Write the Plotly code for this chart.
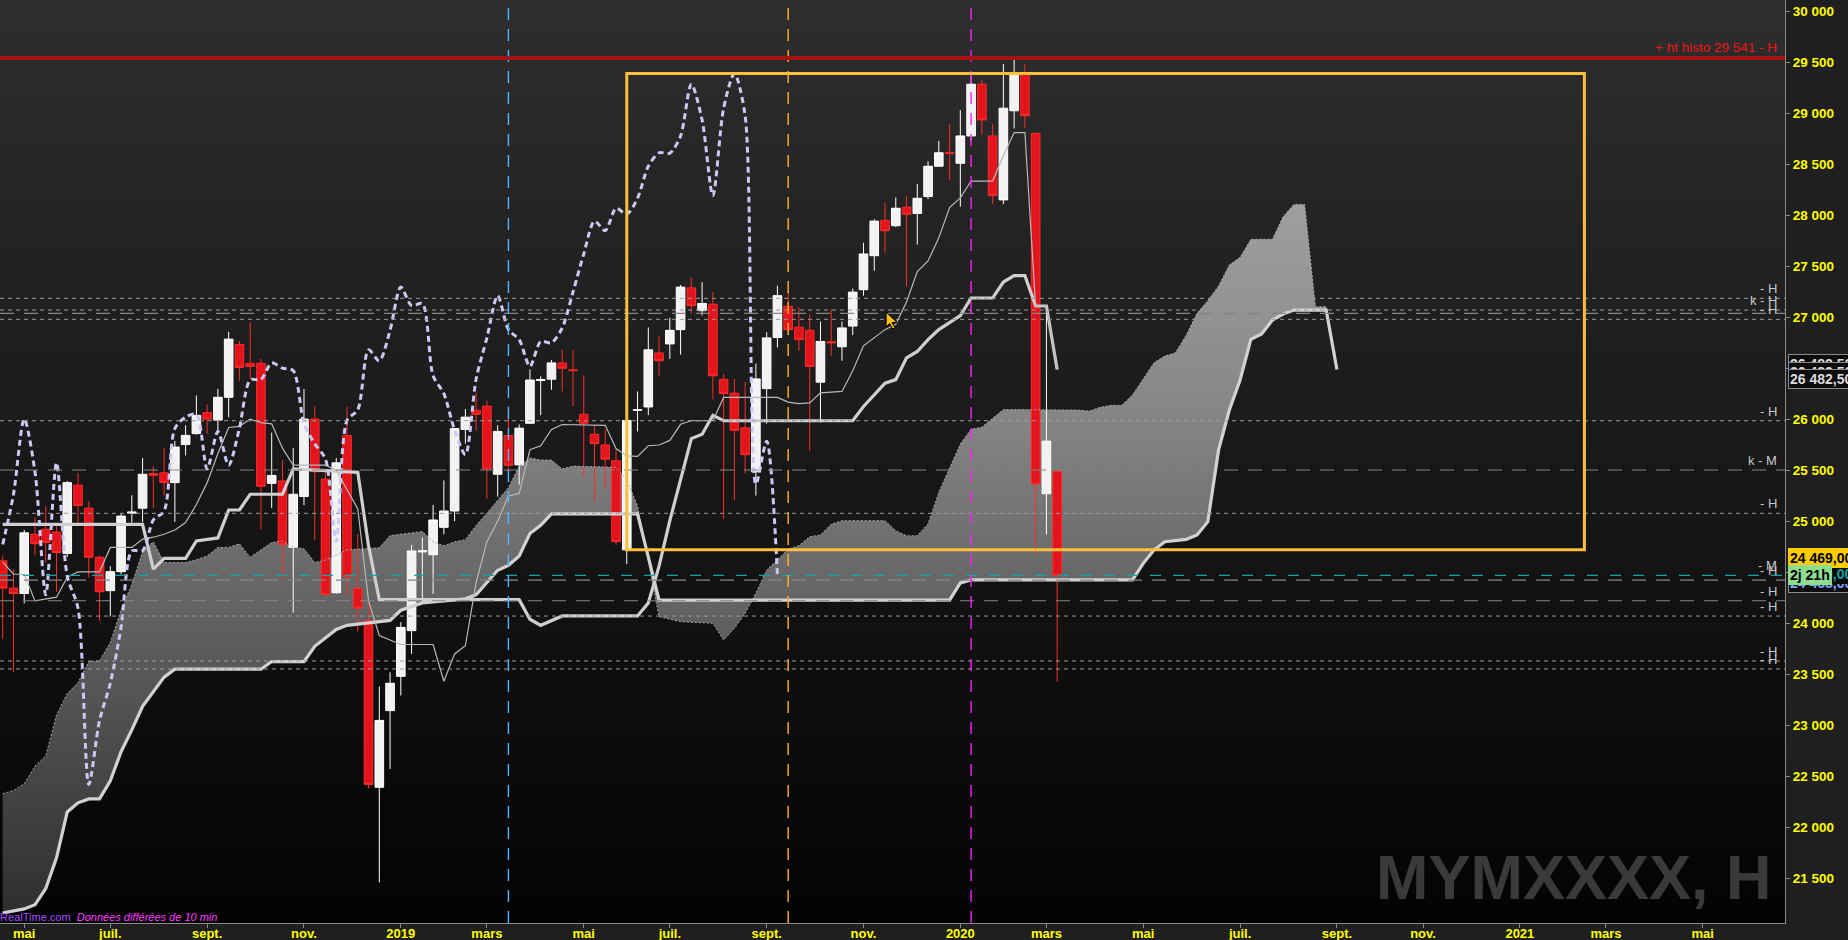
import pandas as pd
import plotly.graph_objects as go

# ---------------- data ----------------
first_week = "2018-04-23"

opens = [24612, 24345, 24292, 24873, 24922, 24894, 24684, 25354, 25129, 24648,
         24320, 24506, 25080, 25129, 25468, 25475, 25379, 25753, 25860, 26066,
         25992, 26216, 26733, 26548, 26548, 25372, 25396, 24744, 25243, 26002,
         25414, 24300, 25841, 24340, 24028, 22392, 23144, 23480, 23928, 24700,
         24672, 24941, 25101, 25901, 26089, 26129, 25461, 25841, 25553, 25961,
         26380, 26393, 26553, 26485, 26049, 25853, 25749, 25593, 24720, 26089,
         26121, 26651, 26739, 26879, 27289, 27065, 27128, 26392, 26256, 25916,
         25485, 26301, 26802, 27107, 26903, 26872, 26364, 26760, 26711, 26914,
         27271, 27604, 27950, 27898, 28080, 28018, 28184, 28481, 28617, 28510,
         28778, 29285, 28778, 28151, 29025, 29389, 28803, 25270, 25489]
highs = [24666, 24523, 24915, 25040, 25147, 24950, 25396, 25475, 25200, 24666,
         24559, 25076, 25254, 25621, 25539, 25717, 25788, 25942, 26234, 26145,
         26298, 26858, 26769, 26950, 26590, 25870, 25600, 25717, 26298, 26127,
         25489, 25621, 26121, 24873, 24260, 23380, 23520, 24012, 24768, 24840,
         25161, 25401, 25915, 26101, 26261, 26181, 25941, 26129, 25949, 26489,
         26421, 26581, 26681, 26681, 26433, 25941, 25901, 25701, 25989, 26273,
         26901, 26816, 26995, 27317, 27387, 27345, 27247, 26441, 26396, 26364,
         26546, 26854, 27310, 27254, 27100, 27030, 26959, 27079, 26959, 27282,
         27730, 27961, 28122, 28174, 28192, 28307, 28530, 28728, 28893, 29030,
         29368, 29327, 28893, 29483, 29554, 29479, 28803, 27078, 25489]
lows = [23846, 23525, 24195, 24666, 24595, 24310, 24650, 24987, 24452, 24024,
        24067, 24480, 24987, 24994, 25129, 25254, 24994, 25646, 25849, 25860,
        25860, 26020, 26377, 26394, 24922, 25129, 24434, 24103, 25158, 24815,
        24274, 24288, 24280, 23920, 22380, 21459, 22572, 23292, 23700, 24240,
        24288, 24872, 25001, 25761, 25889, 25221, 25241, 25481, 25361, 25961,
        26041, 26289, 26273, 26129, 25441, 25193, 25321, 24769, 24580, 25881,
        26041, 26424, 26592, 26634, 27037, 27019, 26196, 25023, 25205, 25468,
        25251, 25958, 26704, 26861, 26669, 25688, 25969, 26623, 26574, 26826,
        27212, 27457, 27632, 27884, 27299, 27713, 28159, 28481, 28345, 28085,
        28728, 28790, 28109, 28109, 28852, 28860, 24676, 24870, 23426]
closes = [24345, 24292, 24887, 24780, 24791, 24694, 25379, 25154, 24648, 24309,
          24506, 25051, 25090, 25461, 25450, 25379, 25728, 25842, 26038, 26002,
          26216, 26786, 26508, 26519, 25343, 25450, 24773, 25265, 26002, 25486,
          24281, 25573, 24460, 24148, 22420, 23048, 23412, 23960, 24709, 24712,
          25013, 25101, 25909, 26021, 26049, 25513, 25881, 25549, 25913, 26385,
          26390, 26553, 26501, 26477, 25961, 25761, 25609, 24801, 25989, 26093,
          26681, 26574, 26872, 27296, 27114, 27135, 26427, 26252, 25892, 25653,
          26396, 26798, 27212, 26879, 26781, 26518, 26763, 26750, 26896, 27247,
          27621, 27943, 27849, 28069, 28010, 28167, 28481, 28613, 28609, 28778,
          29285, 28935, 28192, 29050, 29389, 28976, 25365, 25786, 24469]

# Ichimoku lines: (week number since first_week, value)
tenkan_pts = [(0, 24600), (1, 24481), (2, 24481), (3, 24220), (5, 24256), (6, 24452), (7, 24505),
              (9, 24505), (10, 24744), (12, 24744), (13, 24826), (14, 24844), (15, 24873), (16, 24915),
              (17, 24987), (18, 25165), (19, 25379), (20, 25664), (21, 25920), (22, 25931), (23, 26002),
              (24, 25967), (25, 25956), (26, 25717), (27, 25550), (30, 25550), (31, 25501), (33, 25121),
              (34, 24220), (35, 23880), (37, 23792), (40, 23792), (41, 23432), (42, 23700), (43, 23780),
              (44, 24400), (45, 24800), (46, 25001), (47, 25249), (48, 25273), (49, 25701), (50, 25741),
              (51, 25901), (52, 25949), (56, 25941), (57, 25713), (58, 25641), (59, 25636), (60, 25741),
              (61, 25748), (62, 25793), (63, 25951), (64, 25986), (66, 25986), (67, 26214), (72, 26214),
              (73, 26168), (74, 26154), (75, 26161), (76, 26259), (78, 26273), (79, 26476), (80, 26721),
              (82, 26879), (83, 26931), (84, 27150), (85, 27449), (86, 27552), (87, 27779), (88, 28076),
              (89, 28171), (90, 28336), (92, 28336), (93, 28584), (94, 28811), (95, 28811), (96, 27111),
              (97, 27111), (98, 26488)]
kijun_pts = [(0, 24969), (13, 24969), (14, 24530), (15, 24637), (17, 24637), (18, 24808), (20, 24837),
             (21, 25111), (22, 25111), (23, 25265), (26, 25265), (27, 25514), (33, 25480), (34, 24760),
             (35, 24232), (48, 24232), (49, 24040), (50, 23980), (52, 24072), (59, 24072), (60, 24200),
             (61, 24560), (62, 25006), (64, 25811), (65, 25853), (66, 26039), (67, 25986), (79, 25986),
             (80, 26126), (82, 26354), (83, 26389), (84, 26603), (85, 26665), (86, 26781), (87, 26880),
             (89, 27016), (90, 27189), (92, 27189), (93, 27346), (94, 27408), (95, 27408), (96, 27111),
             (97, 27111), (98, 26488)]
span_a_pts = [(0, 22330), (1, 22360), (2, 22428), (3, 22599), (4, 22700), (5, 23100), (6, 23312),
              (7, 23418), (8, 23625), (9, 23632), (10, 23811), (11, 24131), (12, 24381), (13, 24701),
              (14, 24800), (15, 24595), (17, 24595), (18, 24623), (19, 24659), (20, 24744), (21, 24744),
              (22, 24780), (23, 24648), (24, 24719), (25, 24791), (26, 24808), (27, 24744), (28, 24730),
              (29, 24595), (30, 24620), (32, 24720), (35, 24740), (36, 24860), (39, 24900), (40, 24800),
              (41, 24760), (42, 24800), (43, 24820), (44, 24960), (45, 25080), (46, 25200), (47, 25330),
              (48, 25540), (49, 25621), (50, 25601), (51, 25601), (52, 25513), (53, 25541), (57, 25529),
              (58, 25405), (59, 25150), (60, 24600), (61, 24065), (63, 24016), (66, 24000), (67, 23836),
              (68, 23951), (69, 24098), (70, 24294), (71, 24520), (72, 24620), (73, 24726), (74, 24761),
              (75, 24848), (76, 24866), (77, 24971), (78, 25006), (82, 25006), (83, 24908), (84, 24858),
              (85, 24858), (86, 24973), (87, 25283), (89, 25757), (90, 25902), (91, 25922), (93, 26096),
              (100, 26090), (101, 26081), (102, 26117), (103, 26137), (104, 26137), (105, 26238),
              (106, 26402), (107, 26555), (108, 26620), (109, 26653), (110, 26826), (111, 27039),
              (112, 27163), (113, 27307), (114, 27513), (115, 27588), (116, 27764), (118, 27764),
              (119, 27987), (120, 28107), (121, 28107), (122, 27104), (123, 27104), (124, 26488)]
span_b_pts = [(0, 21160), (2, 21200), (3, 21240), (4, 21400), (5, 21700), (6, 22150), (7, 22240),
              (8, 22278), (9, 22278), (10, 22456), (11, 22741), (12, 22955), (13, 23187), (15, 23472),
              (16, 23550), (24, 23550), (25, 23625), (28, 23625), (29, 23775), (30, 23860), (31, 23940),
              (32, 23980), (36, 24028), (37, 24128), (39, 24200), (43, 24240), (44, 24280), (46, 24520),
              (47, 24568), (48, 24660), (49, 24880), (50, 24960), (51, 25073), (59, 25073), (60, 24650),
              (61, 24228), (88, 24228), (89, 24396), (90, 24425), (105, 24425), (106, 24588),
              (107, 24718), (108, 24800), (110, 24823), (111, 24866), (112, 24996), (113, 25700),
              (114, 26091), (115, 26385), (116, 26784), (117, 26836), (118, 26973), (119, 27032),
              (120, 27071), (123, 27071), (124, 26488)]
chikou_shift = 26

tick_dates = ["2018-05-07", "2018-07-02", "2018-09-03", "2018-11-05", "2019-01-07", "2019-03-04",
              "2019-05-06", "2019-07-01", "2019-09-02", "2019-11-04", "2020-01-06", "2020-03-02",
              "2020-05-04", "2020-07-06", "2020-09-07", "2020-11-02", "2021-01-04", "2021-03-01",
              "2021-05-03"]
tick_labels = ["mai", "juil.", "sept.", "nov.", "2019", "mars", "mai", "juil.", "sept.", "nov.",
               "2020", "mars", "mai", "juil.", "sept.", "nov.", "2021", "mars", "mai"]

level_values = [27186, 27071, 27039, 26980, 25986, 25503, 25078, 24469, 24424, 24221, 24071, 23630, 23552]
level_labels = ["- H", "k - H", "", "- H", "- H", "k - M", "- H", "- M", "- H", "- H", "- H", "- H", "- H"]
level_kinds = ["short", "short", "long", "short", "short", "long", "short", "teal", "long", "long",
               "short", "short", "short"]

record_high = 29541
record_label = "+ ht histo 29 541 - H"
vline_weeks = [47, 73, 90]
box_weeks = (58, 147)
box_values = (24720, 29389)
last_ichimoku_value = 26482.5
cursor_week, cursor_value = 82.1, 27052

# ---------------- helpers ----------------
t0 = pd.Timestamp(first_week)


def wk(w):
    return t0 + pd.Timedelta(weeks=w)


dates = [wk(i) for i in range(len(opens))]


def split(pts):
    return [wk(p[0]) for p in pts], [p[1] for p in pts]


FONT = "Liberation Sans, Arial, sans-serif"

fig = go.Figure()

# ---- cloud (base subplot, under the candles) ----
bx, by = split(span_b_pts)
ax_, ay = split(span_a_pts)
fig.add_trace(go.Scatter(x=bx, y=by, mode="lines", line=dict(width=0, color="rgba(0,0,0,0)"),
                         hoverinfo="skip", showlegend=False))
fig.add_trace(go.Scatter(x=ax_, y=ay, mode="lines", line=dict(width=0, color="rgba(0,0,0,0)"),
                         fill="tonexty", fillcolor="#6e6e6e",
                         fillgradient=dict(type="vertical", start=21000, stop=28200,
                                           colorscale=[[0, "#2c2c2c"], [0.486, "#696969"],
                                                       [0.694, "#858585"], [1, "#a0a0a0"]]),
                         hoverinfo="skip", showlegend=False))

# ---- candles and lines (overlay subplot, above the cloud) ----
fig.add_trace(go.Candlestick(x=dates, open=opens, high=highs, low=lows, close=closes,
                             xaxis="x2", yaxis="y2",
                             increasing=dict(fillcolor="#f2f2f2", line=dict(color="#ffffff", width=1)),
                             decreasing=dict(fillcolor="#e3141c", line=dict(color="#ff2a2a", width=1)),
                             hoverinfo="skip", showlegend=False))
fig.add_trace(go.Scatter(x=ax_, y=ay, mode="lines", xaxis="x2", yaxis="y2",
                         line=dict(color="#a8a8a8", width=1, dash="2px,2px"),
                         hoverinfo="skip", showlegend=False))
fig.add_trace(go.Scatter(x=bx, y=by, mode="lines", xaxis="x2", yaxis="y2",
                         line=dict(color="#d2d2d2", width=3.2),
                         hoverinfo="skip", showlegend=False))
kx, ky = split(kijun_pts)
fig.add_trace(go.Scatter(x=kx, y=ky, mode="lines", xaxis="x2", yaxis="y2",
                         line=dict(color="#cfcfcf", width=3.2),
                         hoverinfo="skip", showlegend=False))
tx, ty = split(tenkan_pts)
fig.add_trace(go.Scatter(x=tx, y=ty, mode="lines", xaxis="x2", yaxis="y2",
                         line=dict(color="#b9b9b9", width=1.2),
                         hoverinfo="skip", showlegend=False))
fig.add_trace(go.Scatter(x=dates[:len(closes) - chikou_shift], y=closes[chikou_shift:],
                         mode="lines", xaxis="x2", yaxis="y2",
                         line=dict(color="#c9c9f4", width=3, dash="6px,4px", shape="spline", smoothing=0.8),
                         hoverinfo="skip", showlegend=False))

# ---------------- shapes ----------------
shapes = []
N = 92
for i in range(N):
    f = (i + 0.5) / N  # 0 bottom -> 1 top
    g = int(round(3 + (46 - 3) * f))
    shapes.append(dict(type="rect", xref="paper", yref="paper", x0=0, x1=1,
                       y0=i / N, y1=(i + 1) / N + 0.002, line=dict(width=0),
                       fillcolor=f"rgb({g},{g},{g})", layer="below"))

styles = {"short": dict(color="#9c9c9c", width=1, dash="4px,4px"),
          "long": dict(color="#858585", width=1.2, dash="14px,10px"),
          "teal": dict(color="#13a3a3", width=1.3, dash="11px,12px")}
for v, kind in zip(level_values, level_kinds):
    shapes.append(dict(type="line", xref="paper", yref="y", x0=0, x1=1, y0=v, y1=v,
                       line=styles[kind], layer="above"))

vcolors = ["#4fb6ff", "#ffb428", "#ff1cff"]
for w, c in zip(vline_weeks, vcolors):
    shapes.append(dict(type="line", xref="x", yref="paper", x0=wk(w), x1=wk(w), y0=0, y1=1,
                       line=dict(color=c, width=1.4, dash="12px,9px"), layer="above"))

shapes.append(dict(type="line", xref="paper", yref="y", x0=0, x1=1, y0=record_high, y1=record_high,
                   line=dict(color="#a81212", width=4), layer="above"))
shapes.append(dict(type="rect", xref="x", yref="y", x0=wk(box_weeks[0]), x1=wk(box_weeks[1]),
                   y0=box_values[0], y1=box_values[1], line=dict(color="#ffbf3c", width=3),
                   fillcolor="rgba(0,0,0,0)", layer="above"))
# mouse pointer glyph
shapes.append(dict(type="path", xref="x", yref="y", xsizemode="pixel", ysizemode="pixel",
                   xanchor=wk(cursor_week), yanchor=cursor_value,
                   path="M 0 0 L 0 -15 L 3.5 -11.5 L 6.5 -17 L 9 -15.8 L 6 -10.5 L 11 -10.5 Z",
                   fillcolor="#ffc21a", line=dict(color="#000000", width=1), layer="above"))

# ---------------- annotations ----------------
ann = []
for v, lab in zip(level_values, level_labels):
    if lab:
        ann.append(dict(xref="paper", yref="y", x=1, y=v, xanchor="right", yanchor="bottom",
                        xshift=-6, yshift=0, text=lab, showarrow=False,
                        font=dict(family=FONT, size=13, color="#c8c8c8")))
ann.append(dict(xref="paper", yref="y", x=1, y=record_high, xanchor="right", yanchor="bottom",
                xshift=-6, yshift=1, text=record_label, showarrow=False,
                font=dict(family=FONT, size=13.5, color="#f01414")))

last = closes[-1]


def fmt(v, dec):
    s = f"{v:,.{dec}f}"
    return s.replace(",", " ").replace(".", ",")


def pricebox(text, y, yshift, bg, fg, border):
    ann.append(dict(xref="paper", yref="y", x=1, y=y, xanchor="left", yanchor="middle",
                    xshift=3, yshift=yshift, text=text, showarrow=False, bgcolor=bg,
                    bordercolor=border, borderwidth=1, borderpad=1,
                    font=dict(family=FONT, size=14, color=fg, weight="bold")))


for ys in (6, -2, -9):
    pricebox(fmt(last_ichimoku_value, 2), last_ichimoku_value, ys, "#0c0c0c", "#dcdcdc", "#8a8a8a")
pricebox(fmt(last - 4, 2), last, -8, "#0c0c0c", "#7aa8ff", "#8a8a8a")
pricebox(fmt(last, 2), last, 1, "#0c0c0c", "#16a0a0", "#0c0c0c")
pricebox(fmt(last, 2), last, 17, "#ffcc00", "#000000", "#ffcc00")
pricebox("2j 21h", last, 0, "#8edc8e", "#000000", "#8edc8e")

ann.append(dict(xref="paper", yref="paper", x=1, y=0.05, xanchor="right", yanchor="middle",
                xshift=-11, text="<b>MYMXXXX, H</b>", showarrow=False,
                font=dict(family=FONT, size=63, color="#3a3a3a")))
ann.append(dict(xref="paper", yref="paper", x=219 / 1785, y=0.0068, xanchor="right", yanchor="middle",
                text='<span style="color:#a64cff">ProRealTime.com</span>  '
                     '<span style="color:#ff3cff"><i>Données différées de 10 min</i></span>',
                showarrow=False, font=dict(family=FONT, size=11)))

# ---------------- layout ----------------
x_range = ["2018-04-21 05:45", "2021-06-25 12:00"]
y_range = [21061.7, 30110.8]

fig.update_layout(
    width=1848, height=940,
    margin=dict(l=0, r=63, t=0, b=17, pad=0),
    paper_bgcolor="#1f1f1f", plot_bgcolor="#000000",
    separators=", ",
    showlegend=False, hovermode=False,
    boxgap=0.2, boxgroupgap=0,
    shapes=shapes, annotations=ann,
    xaxis=dict(type="date", range=x_range, tickmode="array", tickvals=tick_dates, ticktext=tick_labels,
               tickfont=dict(family=FONT, size=13, color="#ffff00", weight="bold"),
               ticks="outside", ticklen=4, tickcolor="#8a8a8a", showline=True, linecolor="#8a8a8a",
               ticklabelstandoff=-6,
               showgrid=False, zeroline=False, automargin=False, fixedrange=True,
               rangeslider=dict(visible=False)),
    yaxis=dict(side="right", range=y_range, dtick=500, tick0=0, tickformat=",d",
               tickfont=dict(family=FONT, size=13.5, color="#ffff00", weight="bold"),
               ticks="outside", ticklen=4, tickcolor="#8a8a8a", showline=True, linecolor="#8a8a8a",
               showgrid=False, zeroline=False, automargin=False, fixedrange=True),
    xaxis2=dict(overlaying="x", matches="x", visible=False, type="date",
                rangeslider=dict(visible=False), fixedrange=True),
    yaxis2=dict(overlaying="y", matches="y", visible=False, fixedrange=True),
)

fig.write_html("out.html", config={"displayModeBar": False},
               post_script="document.body.style.margin='0';document.body.style.overflow='hidden';")
